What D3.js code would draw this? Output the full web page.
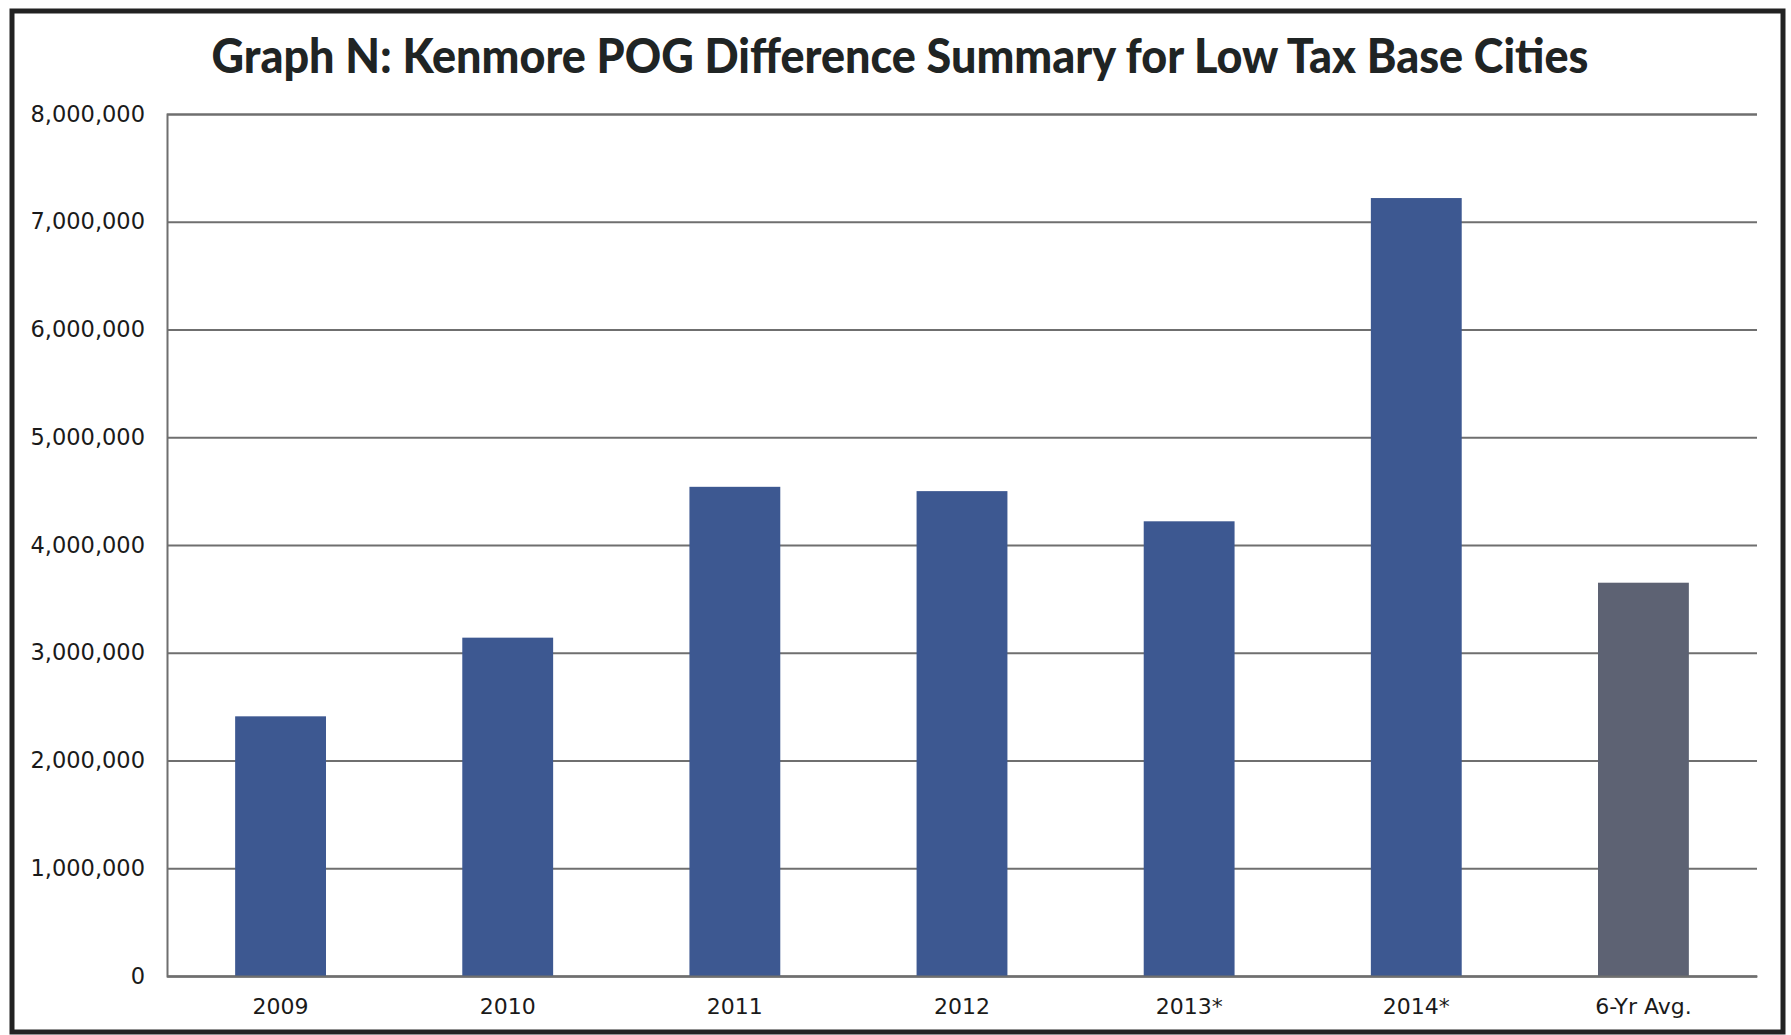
<!DOCTYPE html>
<html>
<head>
<meta charset="utf-8">
<script src="https://cdn.jsdelivr.net/npm/d3@7"></script>
<style>
  html, body { margin: 0; padding: 0; background: #ffffff; }
  svg { display: block; }
</style>
</head>
<body>
<svg id="chart" width="1791" height="1035"></svg>
<script>
// Kenmore POG difference per year, with the six-year average as the last bar
const categories = ["2009", "2010", "2011", "2012", "2013*", "2014*", "6-Yr Avg."];
const values = [2410000, 3140000, 4540000, 4500000, 4220000, 7220000, 3650000];
const yTicks = [0, 1000000, 2000000, 3000000, 4000000, 5000000, 6000000, 7000000, 8000000];
const titleText = "Graph N: Kenmore POG Difference Summary for Low Tax Base Cities";

const W = 1791, H = 1035;
const plot = { left: 167, right: 1757, top: 114, bottom: 976 };

const svg = d3.select("#chart");

// outer frame
svg.append("rect")
  .attr("x", 12).attr("y", 11)
  .attr("width", W - 12 - 8).attr("height", H - 11 - 3)
  .attr("fill", "#ffffff")
  .attr("stroke", "#222222")
  .attr("stroke-width", 5);

// title
svg.append("text")
  .attr("x", 900).attr("y", 73)
  .attr("text-anchor", "middle")
  .attr("font-family", "Lato, 'DejaVu Sans', sans-serif")
  .attr("font-weight", 900)
  .attr("font-size", 48)
  .attr("fill", "#1f2424")
  .attr("textLength", 1377)
  .attr("lengthAdjust", "spacingAndGlyphs")
  .text(titleText);

const x = d3.scaleBand()
  .domain(categories)
  .range([plot.left, plot.right])
  .paddingInner(0.6)
  .paddingOuter(0.3);

const y = d3.scaleLinear()
  .domain([0, 8000000])
  .range([plot.bottom, plot.top]);

// horizontal gridlines with value labels
const yAxis = d3.axisLeft(y)
  .tickValues(yTicks)
  .tickSize(-(plot.right - plot.left))
  .tickPadding(22)
  .tickFormat(d3.format(","));

const gy = svg.append("g")
  .attr("transform", `translate(${plot.left},0)`)
  .call(yAxis);
gy.select(".domain").attr("stroke", "#6f6f6f").attr("stroke-width", 2);
gy.selectAll(".tick line").attr("stroke", "#6f6f6f").attr("stroke-width", 2);
gy.selectAll(".tick text")
  .attr("font-family", "'DejaVu Sans', sans-serif")
  .attr("font-size", 22.5)
  .attr("fill", "#1a1a1a");

// bars
svg.append("g").selectAll("rect")
  .data(categories)
  .join("rect")
  .attr("x", d => x(d))
  .attr("width", x.bandwidth())
  .attr("y", (d, i) => y(values[i]))
  .attr("height", (d, i) => y(0) - y(values[i]))
  .attr("fill", (d, i) => i === categories.length - 1 ? "#5d6273" : "#3d5891");

// category axis
const xAxis = d3.axisBottom(x).tickSize(0).tickPadding(22);
const gx = svg.append("g")
  .attr("transform", `translate(0,${plot.bottom})`)
  .call(xAxis);
gx.select(".domain").attr("stroke", "#6f6f6f").attr("stroke-width", 2);
gx.selectAll(".tick text")
  .attr("font-family", "'DejaVu Sans', sans-serif")
  .attr("font-size", 22)
  .attr("fill", "#1a1a1a");
</script>
</body>
</html>
